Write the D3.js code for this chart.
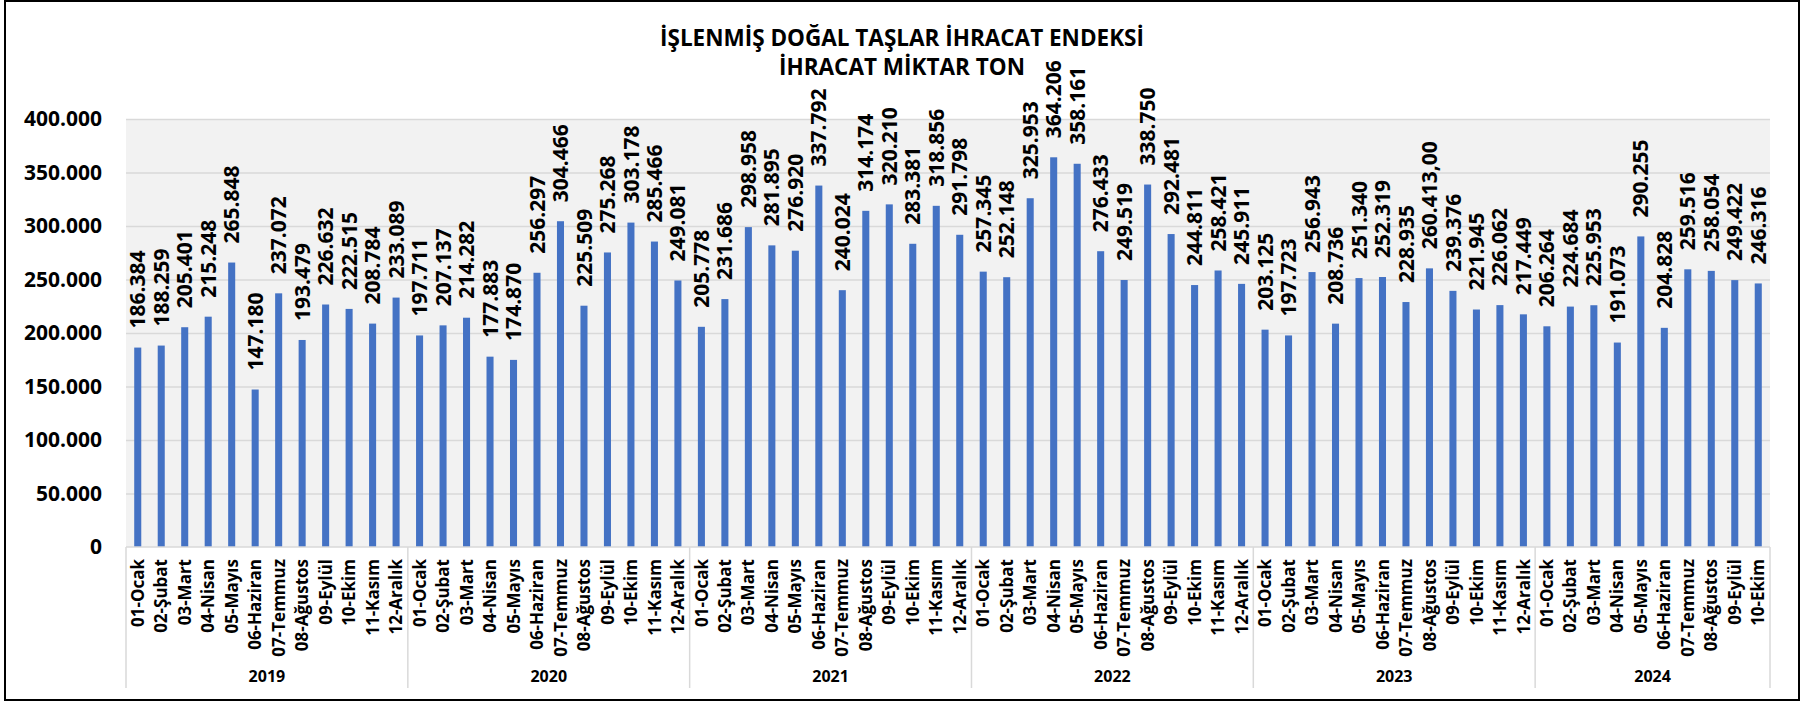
<!DOCTYPE html>
<html>
<head>
<meta charset="utf-8">
<script src="https://cdn.jsdelivr.net/npm/d3@7"></script>
<style>
  body { margin: 0; background: #fff; }
  svg { display: block; font-family: 'Open Sans', sans-serif; font-weight: bold; }
  .grid line { stroke: #d9d9d9; stroke-width: 1.3; }
  .grid .domain { display: none; }
</style>
</head>
<body>
<div id="chart"></div>
<script>
const months = ['01-Ocak', '02-Şubat', '03-Mart', '04-Nisan', '05-Mayıs', '06-Haziran',
                '07-Temmuz', '08-Ağustos', '09-Eylül', '10-Ekim', '11-Kasım', '12-Aralık'];
const years = ['2019', '2020', '2021', '2022', '2023', '2024'];
const v2019 = [186384, 188259, 205401, 215248, 265848, 147180, 237072, 193479, 226632, 222515, 208784, 233089];
const v2020 = [197711, 207137, 214282, 177883, 174870, 256297, 304466, 225509, 275268, 303178, 285466, 249081];
const v2021 = [205778, 231686, 298958, 281895, 276920, 337792, 240024, 314174, 320210, 283381, 318856, 291798];
const v2022 = [257345, 252148, 325953, 364206, 358161, 276433, 249519, 338750, 292481, 244811, 258421, 245911];
const v2023 = [203125, 197723, 256943, 208736, 251340, 252319, 228935, 260413, 239376, 221945, 226062, 217449];
const v2024 = [206264, 224684, 225953, 191073, 290255, 204828, 259516, 258054, 249422, 246316];
// one label in the source is written with decimals
const labelOverride = {'2023|08-Ağustos': '260.413,00'};
const yTicks = [0, 50000, 100000, 150000, 200000, 250000, 300000, 350000, 400000];
const title = ['İŞLENMİŞ DOĞAL TAŞLAR İHRACAT ENDEKSİ', 'İHRACAT MİKTAR TON'];

const W = 1802, H = 701;
const plot = {left: 126, right: 1770, top: 119, bottom: 547};
const tr = d3.formatLocale({decimal: ',', thousands: '.', grouping: [3], currency: ['', '']});
const fmt = tr.format(',.0f');

const series = [v2019, v2020, v2021, v2022, v2023, v2024];
const data = [];
series.forEach((vals, yi) => {
  vals.forEach((v, mi) => {
    data.push({year: years[yi], month: months[mi], key: years[yi] + '|' + months[mi], value: v});
  });
});

const svg = d3.select('#chart').append('svg')
  .attr('width', W)
  .attr('height', H);

// outer frame
svg.append('rect')
  .attr('x', 5).attr('y', 1)
  .attr('width', 1794).attr('height', 699)
  .attr('fill', 'none')
  .attr('stroke', '#000')
  .attr('stroke-width', 2);

const x = d3.scaleBand()
  .domain(data.map(d => d.key))
  .range([plot.left, plot.right])
  .paddingInner(0.7)
  .paddingOuter(0.35);
const y = d3.scaleLinear()
  .domain([0, 400000])
  .range([plot.bottom, plot.top]);

// plot background
svg.append('rect')
  .attr('x', plot.left).attr('y', plot.top)
  .attr('width', plot.right - plot.left)
  .attr('height', plot.bottom - plot.top)
  .attr('fill', '#f2f2f2');

// horizontal grid
svg.append('g')
  .attr('class', 'grid')
  .attr('transform', `translate(${plot.left},0)`)
  .call(d3.axisLeft(y).tickValues(yTicks.slice(1)).tickSize(-(plot.right - plot.left)).tickFormat(''));

// y labels
svg.append('g')
  .attr('transform', `translate(${plot.left},0)`)
  .call(d3.axisLeft(y).tickValues(yTicks).tickSize(0).tickPadding(24).tickFormat(fmt))
  .call(g => g.select('.domain').remove())
  .call(g => g.selectAll('text')
    .style('font-size', '21px')
    .style('font-family', "'Open Sans', sans-serif")
    .style('font-weight', 'bold')
    .attr('fill', '#000'));

// bars
svg.append('g')
  .selectAll('rect')
  .data(data)
  .enter().append('rect')
  .attr('x', d => x(d.key))
  .attr('y', d => y(d.value))
  .attr('width', x.bandwidth())
  .attr('height', d => y(0) - y(d.value))
  .attr('fill', '#4472c4');

// value labels
svg.append('g')
  .selectAll('text')
  .data(data)
  .enter().append('text')
  .attr('transform', d => `translate(${x(d.key) + x.bandwidth() / 2},${y(d.value) - 19}) rotate(-90)`)
  .attr('dy', '0.36em')
  .style('font-size', '21px')
  .attr('fill', '#000')
  .text(d => labelOverride[d.key] || fmt(d.value));

// category axis
const axis = svg.append('g');
axis.append('line')
  .attr('x1', plot.left).attr('x2', plot.right)
  .attr('y1', plot.bottom).attr('y2', plot.bottom)
  .attr('stroke', '#d9d9d9').attr('stroke-width', 1.5);

axis.selectAll('.mlabel')
  .data(data)
  .enter().append('text')
  .attr('class', 'mlabel')
  .attr('transform', d => `translate(${x(d.key) + x.bandwidth() / 2},${plot.bottom + 12}) rotate(-90)`)
  .attr('dy', '0.36em')
  .attr('text-anchor', 'end')
  .style('font-size', '17px')
  .attr('fill', '#000')
  .text(d => d.month);

// year groups
const groups = years.map((yr, i) => {
  const keys = data.filter(d => d.year === yr).map(d => d.key);
  const x0 = x(keys[0]) - x.step() * x.paddingInner() / 2 - (i === 0 ? x.step() * (x.paddingOuter() - x.paddingInner() / 2) : 0);
  const x1 = x(keys[keys.length - 1]) + x.bandwidth() + x.step() * x.paddingInner() / 2;
  return {yr, x0, x1};
});
groups[groups.length - 1].x1 = plot.right;

axis.selectAll('.divider')
  .data([plot.left, ...groups.map(g => g.x1)])
  .enter().append('line')
  .attr('class', 'divider')
  .attr('x1', d => d).attr('x2', d => d)
  .attr('y1', plot.bottom).attr('y2', 688)
  .attr('stroke', '#d9d9d9').attr('stroke-width', 1.5);

axis.selectAll('.ylabel')
  .data(groups)
  .enter().append('text')
  .attr('class', 'ylabel')
  .attr('x', g => (g.x0 + g.x1) / 2)
  .attr('y', 682)
  .attr('text-anchor', 'middle')
  .style('font-size', '16px')
  .attr('fill', '#000')
  .text(g => g.yr);

// title
svg.append('g')
  .selectAll('text')
  .data(title)
  .enter().append('text')
  .attr('x', 902)
  .attr('y', (_, i) => 46 + i * 29)
  .attr('text-anchor', 'middle')
  .style('font-size', '22.5px')
  .attr('fill', '#000')
  .text(d => d);
</script>
</body>
</html>
